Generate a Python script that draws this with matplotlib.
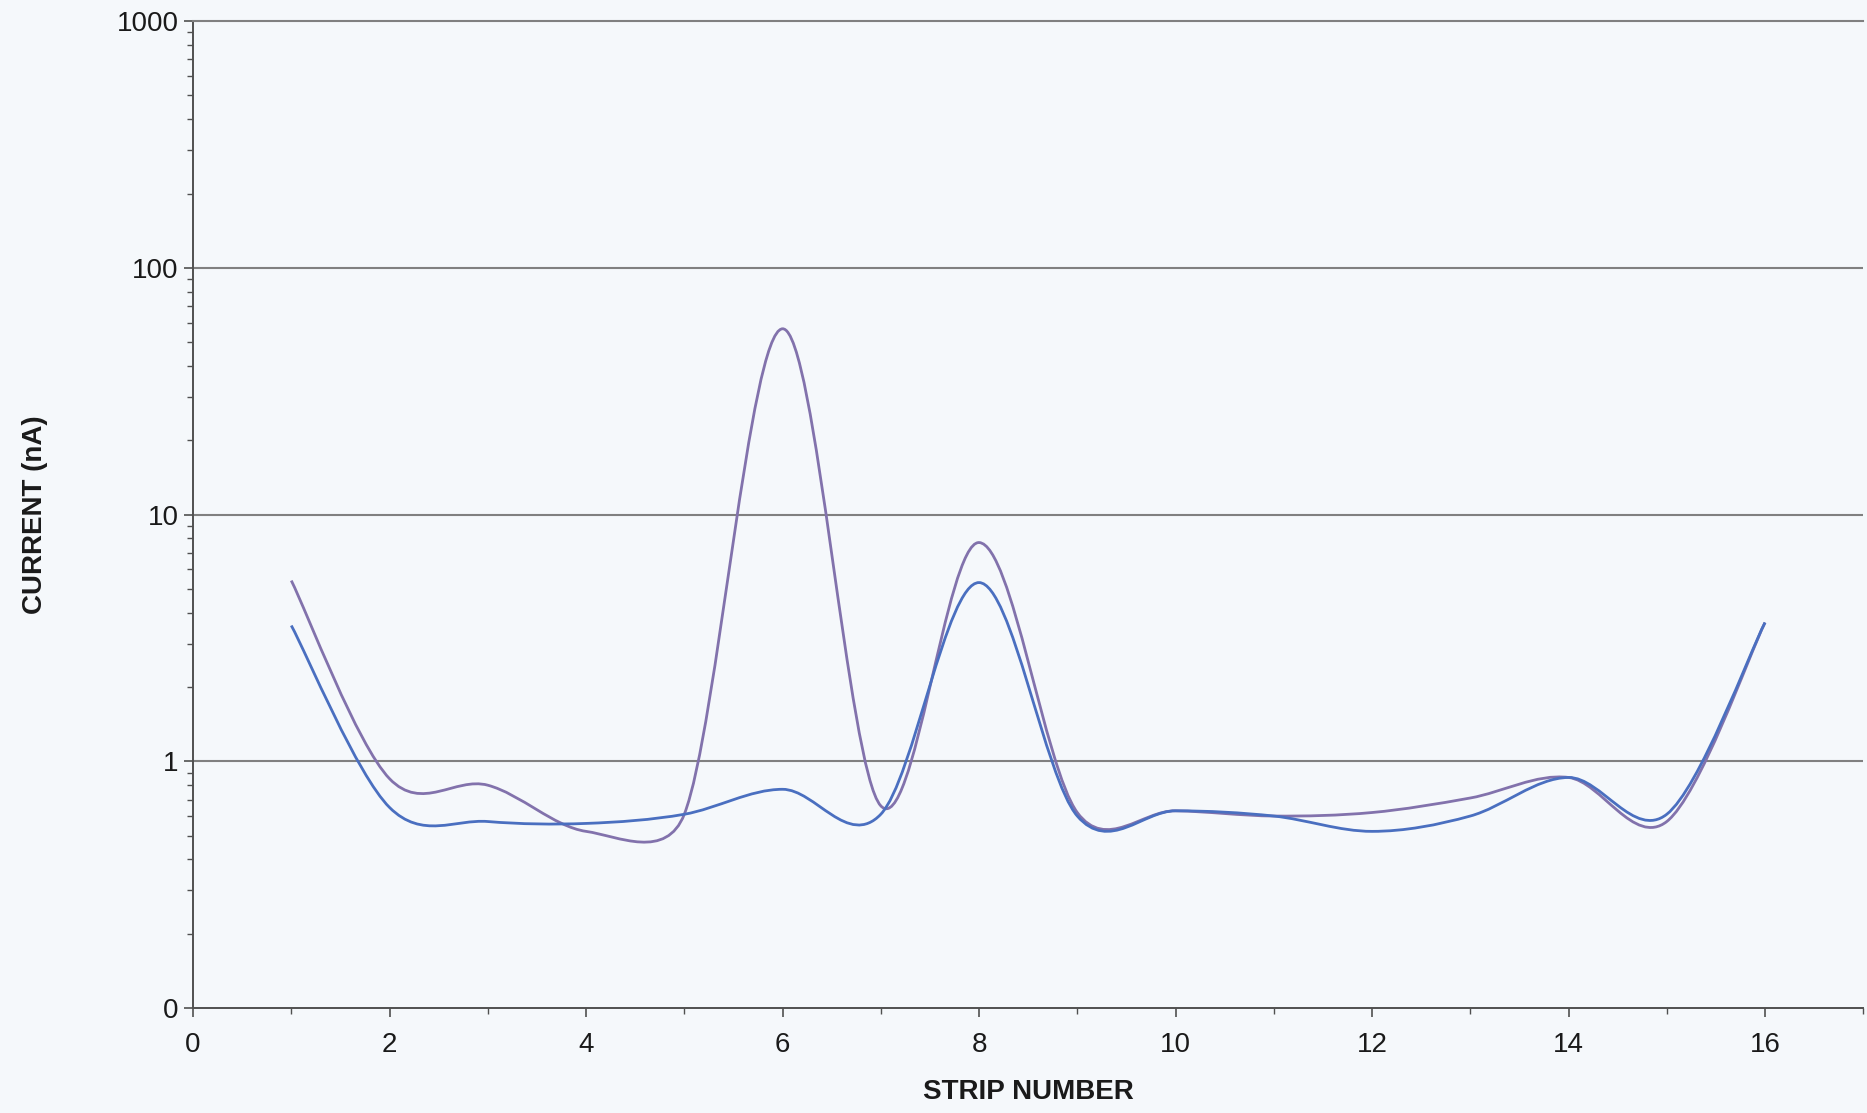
import numpy as np
import matplotlib
matplotlib.use("Agg")
from matplotlib import pyplot as plt
from matplotlib.path import Path
from matplotlib.patches import PathPatch
from matplotlib.ticker import FixedLocator, FuncFormatter, NullFormatter

# strip number vs current (nA), two scans
strips = [1, 2, 3, 4, 5, 6, 7, 8, 9, 10, 11, 12, 13, 14, 15, 16]
current_a = [5.4, 0.85, 0.80, 0.52, 0.61, 56.6, 0.66, 7.7, 0.62, 0.63, 0.60, 0.62, 0.71, 0.86, 0.57, 3.65]
current_b = [3.55, 0.65, 0.57, 0.56, 0.61, 0.77, 0.61, 5.3, 0.60, 0.63, 0.60, 0.52, 0.60, 0.86, 0.61, 3.65]

color_a = "#8272ac"
color_b = "#4a6fc0"
bg = "#f5f8fb"

plt.rcParams['font.family'] = ['Liberation Sans', 'DejaVu Sans']


def clamp(v, limit):
    ln = np.hypot(*v)
    if ln > limit:
        return v * limit / ln
    return v


def smooth_path(ax, xs, ys):
    # smoothed line like a spreadsheet chart: catmull-rom bezier in screen
    # space, control arms limited to half of the segment length
    pts = ax.transData.transform(np.column_stack([xs, ys]))
    n = len(pts)
    inv = ax.transData.inverted()
    verts = [pts[0]]
    codes = [Path.MOVETO]
    for i in range(n - 1):
        p0 = pts[max(i - 1, 0)]
        p1 = pts[i]
        p2 = pts[i + 1]
        p3 = pts[min(i + 2, n - 1)]
        d12 = np.hypot(*(p2 - p1))
        c1 = p1 + clamp((p2 - p0) / 6, 0.5 * d12)
        c2 = p2 - clamp((p3 - p1) / 6, 0.5 * d12)
        verts += [c1, c2, p2]
        codes += [Path.CURVE4] * 3
    verts = inv.transform(np.array(verts))
    return Path(verts, codes)


fig = plt.figure(figsize=(18.67, 11.13), dpi=100, facecolor=bg)
ax = fig.add_axes([0.1034, 0.0943, 0.8946, 0.8868], facecolor=bg)
ax.set_yscale('log')
ax.set_xlim(0, 17)
ax.set_ylim(0.1, 1000)

for yv in [1, 10, 100]:
    ax.axhline(yv, color='#808080', lw=1.5, zorder=1)

ax.add_patch(PathPatch(smooth_path(ax, strips, current_a), fill=False, ec=color_a, lw=2.0, zorder=3))
ax.add_patch(PathPatch(smooth_path(ax, strips, current_b), fill=False, ec=color_b, lw=2.0, zorder=3))

ax.spines['right'].set_visible(False)
ax.spines['top'].set_color('#808080')
ax.spines['top'].set_linewidth(1.5)
ax.spines['left'].set_color('#505050')
ax.spines['bottom'].set_color('#505050')
ax.spines['left'].set_linewidth(1.4)
ax.spines['bottom'].set_linewidth(1.4)

ax.xaxis.set_major_locator(FixedLocator([0, 2, 4, 6, 8, 10, 12, 14, 16]))
ax.xaxis.set_minor_locator(FixedLocator([1, 3, 5, 7, 9, 11, 13, 15, 17]))
ax.xaxis.set_minor_formatter(NullFormatter())

ax.yaxis.set_major_locator(FixedLocator([0.1, 1, 10, 100, 1000]))
ax.yaxis.set_major_formatter(FuncFormatter(lambda v, p: "0" if v < 0.5 else "%d" % round(v)))
minors = [m * 10.0 ** e for e in range(-1, 3) for m in range(2, 10)]
ax.yaxis.set_minor_locator(FixedLocator(minors))
ax.yaxis.set_minor_formatter(NullFormatter())

ax.tick_params(axis='both', which='major', direction='out', length=6.5, width=1.2,
               color='#505050', labelsize=20, labelcolor='#1a1a1a')
ax.tick_params(axis='y', which='major', pad=4)
ax.tick_params(axis='x', which='major', pad=11)
ax.tick_params(axis='both', which='minor', direction='out', length=4, width=1.0, color='#505050')

ax.set_xlabel('STRIP NUMBER', fontsize=20, fontweight='bold', color='#1a1a1a')
ax.set_ylabel('CURRENT (nA)', fontsize=20, fontweight='bold', color='#1a1a1a')
ax.xaxis.set_label_coords(0.5, -0.072)
ax.yaxis.set_label_coords(-0.087, 0.5)

plt.savefig("out.png", facecolor=bg)
